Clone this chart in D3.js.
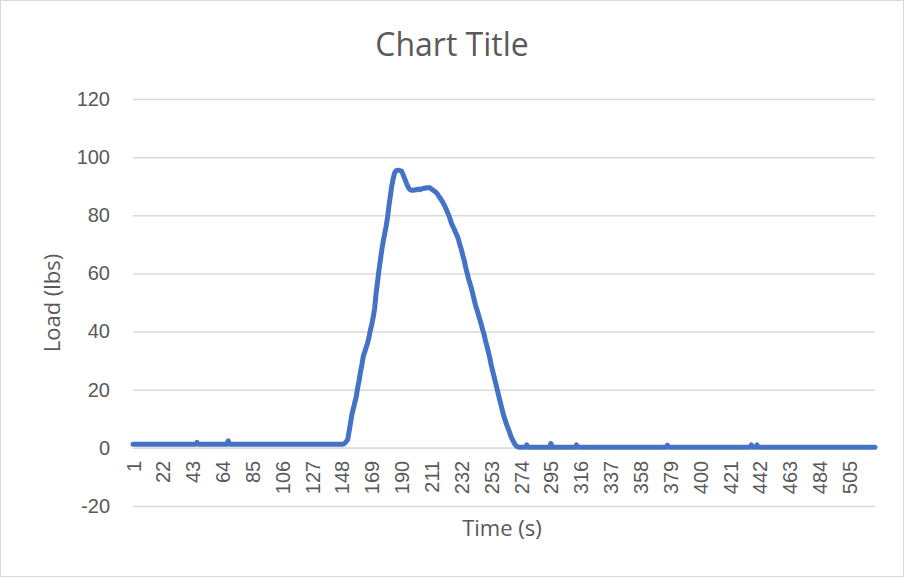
<!DOCTYPE html>
<html>
<head>
<meta charset="utf-8">
<script src="https://cdn.jsdelivr.net/npm/d3@7"></script>
<style>
  html, body { margin: 0; padding: 0; background: #fff; }
  svg { display: block; font-family: "Open Sans", "Noto Sans", sans-serif; }
</style>
</head>
<body>
<svg id="chart" width="904" height="577"></svg>
<script>
// Load readings (lbs), one per second starting at t = 1
const load = [
  1.2,1.2,1.2,1.2,1.2,1.2,1.2,1.2,1.2,1.2,1.2,1.2,1.2,1.2,1.2,1.2,1.2,1.2,1.2,1.2,
  1.2,1.2,1.2,1.2,1.2,1.2,1.2,1.2,1.2,1.2,1.2,1.2,1.2,1.2,1.2,1.2,1.2,1.2,1.2,1.2,
  1.2,1.2,1.2,1.2,1.2,1.9,1.2,1.2,1.2,1.2,1.2,1.2,1.2,1.2,1.2,1.2,1.2,1.2,1.2,1.2,
  1.2,1.2,1.2,1.2,1.2,1.2,1.2,2.4,1.2,1.2,1.2,1.2,1.2,1.2,1.2,1.2,1.2,1.2,1.2,1.2,
  1.2,1.2,1.2,1.2,1.2,1.2,1.2,1.2,1.2,1.2,1.2,1.2,1.2,1.2,1.2,1.2,1.2,1.2,1.2,1.2,
  1.2,1.2,1.2,1.2,1.2,1.2,1.2,1.2,1.2,1.2,1.2,1.2,1.2,1.2,1.2,1.2,1.2,1.2,1.2,1.2,
  1.2,1.2,1.2,1.2,1.2,1.2,1.2,1.2,1.2,1.2,1.2,1.2,1.2,1.2,1.2,1.2,1.2,1.2,1.2,1.2,
  1.2,1.2,1.2,1.2,1.2,1.2,1.2,1.2,1.3,1.6,2.2,2.8,5.5,8.5,11.5,13.5,15.5,17.5,20.5,23,
  26,28.5,31.5,33,34.5,36,38,40.5,42.5,45,48,53,57,61,64.5,68,71,73.5,76,79,
  83,86.5,90,92.5,94.5,95.3,95.5,95.5,95.3,95.2,94,92.8,91.5,90.3,89.3,88.8,88.6,88.6,88.8,88.7,
  88.9,89,88.8,89.1,89.2,89.3,89.4,89.5,89.5,89.4,89,88.7,88.3,88,87.4,86.7,86,85.2,84.4,83.5,
  82.4,81.3,80.2,78.8,77.3,76.2,75.2,74,73,71.6,69.8,68.2,66.2,64.5,62.2,60.3,58.2,56.6,55,53,
  51,49,47.5,45.8,44.1,42.5,40.6,39,36.8,35,33,31,28.5,26.5,24.5,22.5,20.5,18.5,16.5,14.5,
  12.5,10.8,9.2,7.8,6.5,5.2,3.8,2.8,1.8,1.0,0.5,0.3,0.2,0.2,0.2,0.2,0.2,1.0,0.2,0.2,
  0.2,0.2,0.2,0.2,0.2,0.2,0.2,0.2,0.2,0.2,0.2,0.2,0.2,0.2,1.5,0.2,0.2,0.2,0.2,0.2,
  0.2,0.2,0.2,0.2,0.2,0.2,0.2,0.2,0.2,0.2,0.2,0.2,1.0,0.2,0.2,0.2,0.2,0.2,0.2,0.2,
  0.2,0.2,0.2,0.2,0.2,0.2,0.2,0.2,0.2,0.2,0.2,0.2,0.2,0.2,0.2,0.2,0.2,0.2,0.2,0.2,
  0.2,0.2,0.2,0.2,0.2,0.2,0.2,0.2,0.2,0.2,0.2,0.2,0.2,0.2,0.2,0.2,0.2,0.2,0.2,0.2,
  0.2,0.2,0.2,0.2,0.2,0.2,0.2,0.2,0.2,0.2,0.2,0.2,0.2,0.2,0.2,0.2,0.9,0.2,0.2,0.2,
  0.2,0.2,0.2,0.2,0.2,0.2,0.2,0.2,0.2,0.2,0.2,0.2,0.2,0.2,0.2,0.2,0.2,0.2,0.2,0.2,
  0.2,0.2,0.2,0.2,0.2,0.2,0.2,0.2,0.2,0.2,0.2,0.2,0.2,0.2,0.2,0.2,0.2,0.2,0.2,0.2,
  0.2,0.2,0.2,0.2,0.2,0.2,0.2,0.2,0.2,0.2,0.2,0.2,0.2,0.2,0.2,1.0,0.2,0.2,0.2,1.0,
  0.2,0.2,0.2,0.2,0.2,0.2,0.2,0.2,0.2,0.2,0.2,0.2,0.2,0.2,0.2,0.2,0.2,0.2,0.2,0.2,
  0.2,0.2,0.2,0.2,0.2,0.2,0.2,0.2,0.2,0.2,0.2,0.2,0.2,0.2,0.2,0.2,0.2,0.2,0.2,0.2,
  0.2,0.2,0.2,0.2,0.2,0.2,0.2,0.2,0.2,0.2,0.2,0.2,0.2,0.2,0.2,0.2,0.2,0.2,0.2,0.2,
  0.2,0.2,0.2,0.2,0.2,0.2,0.2,0.2,0.2,0.2,0.2,0.2,0.2,0.2,0.2,0.2,0.2,0.2,0.2,0.2,
  0.2,0.2,0.2
];

// Time category labels shown on the horizontal axis
const timeTicks = [1,22,43,64,85,106,127,148,169,190,211,232,253,274,295,316,337,358,379,400,421,442,463,484,505];
// Load axis ticks
const loadTicks = [-20,0,20,40,60,80,100,120];

const chartTitle = "Chart Title";
const xTitle = "Time (s)";
const yTitle = "Load (lbs)";

const W = 904, H = 577;
const plot = { left: 133, right: 875, top: 99, bottom: 506 };
const textColor = "#595959";
const gridColor = "#d9d9d9";
const lineColor = "#4472c4";

const svg = d3.select("#chart");

// outer chart frame
svg.append("rect")
  .attr("x", 0.5).attr("y", 0.5)
  .attr("width", W - 1).attr("height", H - 1)
  .attr("fill", "#fff")
  .attr("stroke", gridColor);

const x = d3.scaleLinear().domain([1, load.length]).range([plot.left, plot.right]);
const y = d3.scaleLinear().domain([-20, 120]).range([plot.bottom, plot.top]);

// horizontal gridlines with value labels (plain hyphen for negatives)
const yAxis = d3.axisLeft(y)
  .tickValues(loadTicks)
  .tickSize(-(plot.right - plot.left))
  .tickPadding(23)
  .tickFormat(d => String(d));

const gy = svg.append("g")
  .attr("transform", `translate(${plot.left},0)`)
  .call(yAxis);
gy.select(".domain").remove();
gy.selectAll(".tick line")
  .attr("stroke", gridColor)
  .attr("stroke-width", 1.5);
gy.selectAll(".tick text")
  .attr("fill", textColor)
  .style("font-size", "20px");

// category axis along the zero line, labels turned vertical
const xAxis = d3.axisBottom(x)
  .tickValues(timeTicks)
  .tickSize(0)
  .tickFormat(d => String(d));

const gx = svg.append("g")
  .attr("transform", `translate(0,${y(0)})`)
  .call(xAxis);
gx.select(".domain")
  .attr("stroke", gridColor)
  .attr("stroke-width", 1.5);
gx.selectAll(".tick text")
  .attr("fill", textColor)
  .style("font-size", "20px")
  .attr("transform", "rotate(-90)")
  .attr("text-anchor", "end")
  .attr("x", -13)
  .attr("y", 0)
  .attr("dy", "0.35em");

// load trace
const line = d3.line()
  .x((d, i) => x(i + 1))
  .y(d => y(d));

svg.append("path")
  .datum(load)
  .attr("fill", "none")
  .attr("stroke", lineColor)
  .attr("stroke-width", 5)
  .attr("stroke-linejoin", "round")
  .attr("stroke-linecap", "round")
  .attr("d", line);

// titles
svg.append("text")
  .attr("x", 452).attr("y", 56)
  .attr("text-anchor", "middle")
  .attr("fill", textColor)
  .style("font-size", "32px")
  .text(chartTitle);

svg.append("text")
  .attr("x", 502).attr("y", 536)
  .attr("text-anchor", "middle")
  .attr("fill", textColor)
  .style("font-size", "22px")
  .text(xTitle);

svg.append("text")
  .attr("transform", `translate(60,303) rotate(-90)`)
  .attr("text-anchor", "middle")
  .attr("fill", textColor)
  .style("font-size", "22px")
  .text(yTitle);
</script>
</body>
</html>
